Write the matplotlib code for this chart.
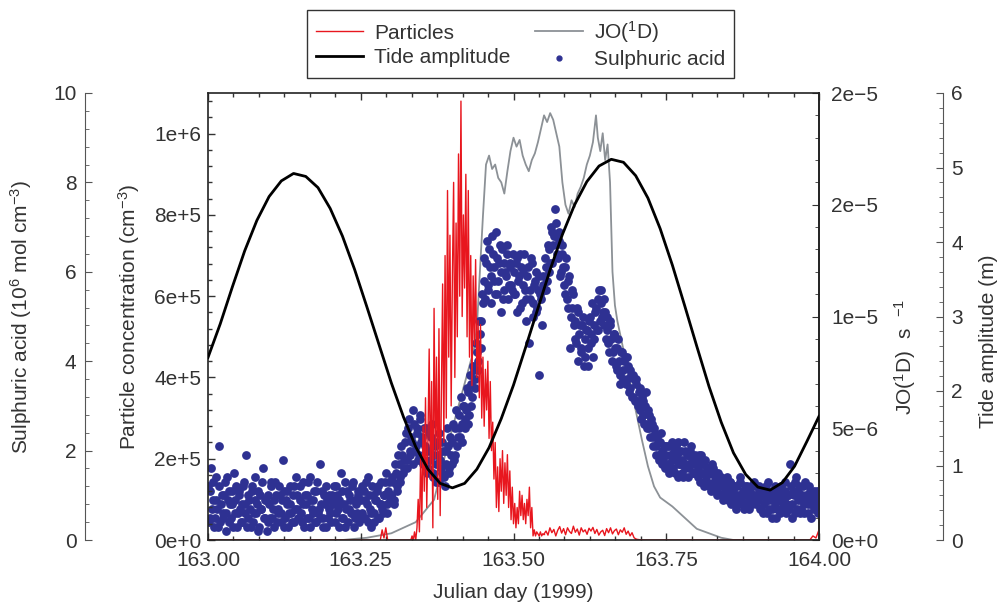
import numpy as np
import matplotlib
matplotlib.use('Agg')
import matplotlib.pyplot as plt
from matplotlib.ticker import MultipleLocator, FixedLocator, FixedFormatter
from matplotlib.lines import Line2D

plt.rcParams['font.family'] = ['Liberation Sans', 'DejaVu Sans']
plt.rcParams['font.size'] = 15
plt.rcParams['mathtext.fontset'] = 'custom'
plt.rcParams['mathtext.rm'] = 'Liberation Sans'
plt.rcParams['mathtext.it'] = 'Liberation Sans'

# ---------------- data ----------------
# Sulphuric acid (10^6 mol cm^-3): two interleaved sample sets, every 0.0025 day
sulphuric_a = [
    1.2, 0.5, 1.6, 0.9, 0.3, 1.4, 0.7, 2.1, 0.4, 1.0, 0.6, 1.3, 0.2, 0.9, 1.1, 0.5, 0.8, 1.5, 0.6, 0.3,
    1.0, 0.7, 0.4, 1.2, 0.8, 1.9, 0.5, 0.9, 0.3, 1.1, 0.6, 1.4, 0.8, 0.2, 1.0, 0.7, 1.6, 0.5, 0.9, 0.4,
    0.8, 1.2, 0.5, 0.9, 1.3, 0.4, 0.7, 1.0, 0.6, 1.8, 0.3, 0.9, 1.1, 0.6, 0.8, 0.4, 1.2, 0.7, 1.0, 0.5,
    0.9, 0.6, 1.3, 0.3, 0.8, 1.0, 0.5, 1.4, 0.7, 0.9, 0.4, 1.1, 0.6, 1.7, 0.8, 0.5, 1.0, 0.3, 0.9, 0.7,
    0.6, 1.0, 0.8, 0.4, 1.2, 0.7, 0.9, 1.5, 0.5, 0.8, 0.3, 1.1, 0.7, 0.9, 0.6, 1.3, 0.5, 0.8, 1.0, 0.4,
    0.9, 0.6, 1.1, 0.5, 0.8, 1.4, 0.7, 0.3, 1.0, 0.6, 0.9, 1.2, 0.5, 0.8, 0.7, 1.0, 1.3, 0.6, 1.1, 0.9,
    1.0, 1.3, 0.8, 1.5, 1.2, 1.7, 1.4, 1.9, 1.6, 2.2, 1.8, 2.5, 2.0, 2.3, 1.7, 2.6, 2.1, 2.4, 1.9, 2.8,
    2.3, 1.8, 2.1, 2.5, 1.6, 2.0, 2.3, 1.4, 1.9, 1.7, 2.2, 1.3, 1.8, 1.5, 2.0, 1.2, 1.7, 2.1, 1.6, 1.9,
    2.2, 1.8, 2.5, 2.1, 2.8, 2.3, 2.6, 3.0, 2.5, 2.9, 3.3, 2.8, 3.5, 3.2, 3.8, 3.6, 4.2, 4.0, 4.6, 4.9,
    5.3, 5.8, 6.2, 5.6, 6.5, 5.9, 6.8, 6.1, 5.5, 6.3, 5.8, 6.6, 6.0, 5.4, 6.2, 5.9, 6.4, 5.7, 6.1, 5.6,
    6.0, 5.5, 6.3, 5.8, 5.2, 6.1, 5.7, 6.4, 5.4, 5.9, 4.4, 5.6, 6.2, 5.3, 5.8, 5.1, 5.6, 3.7, 5.4, 5.9,
    5.6, 6.1, 5.8, 6.5, 6.2, 6.9, 6.6, 7.4, 6.8, 6.3, 6.7, 6.0, 6.4, 5.7, 6.1, 5.4, 5.8, 4.3, 5.2, 5.5,
    4.9, 4.4, 5.1, 4.6, 4.2, 4.8, 3.9, 4.5, 4.7, 4.3, 5.0, 4.6, 4.1, 4.8, 5.2, 4.7, 5.6, 5.3, 5.0, 5.4,
    5.1, 4.7, 4.4, 4.9, 4.5, 4.2, 4.6, 3.9, 4.3, 4.0, 3.5, 4.2, 3.8, 4.1, 3.6, 3.9, 3.4, 3.7, 3.2, 3.6,
    3.5, 3.1, 3.3, 2.9, 3.2, 2.8, 3.0, 2.6, 2.9, 2.5, 2.7, 2.3, 2.5, 2.1, 2.3, 1.9, 2.2, 2.0, 1.8, 2.1,
    1.9, 1.7, 2.1, 1.6, 1.8, 2.0, 1.5, 1.9, 2.2, 1.7, 1.8, 1.4, 2.0, 1.7, 1.9, 1.6, 2.1, 1.8, 1.5, 1.7,
    1.8, 1.6, 1.3, 1.9, 1.5, 1.7, 1.4, 1.6, 1.2, 1.5, 1.7, 1.3, 1.4, 1.1, 1.5, 1.2, 1.4, 0.9, 1.3, 1.1,
    1.2, 1.0, 1.3, 0.9, 1.1, 1.2, 0.8, 1.0, 1.3, 0.9, 1.1, 0.7, 1.0, 1.2, 0.9, 1.1, 0.8, 1.0, 0.9, 1.2,
    0.9, 1.1, 0.7, 1.0, 0.8, 1.2, 0.6, 0.9, 1.0, 0.7, 1.1, 0.8, 0.5, 1.0, 0.9, 1.2, 0.7, 0.9, 1.1, 0.8,
    1.0, 1.7, 0.8, 1.1, 0.6, 1.4, 0.9, 1.2, 0.7, 1.0, 0.8, 1.3, 0.9, 0.6, 1.1, 0.8, 1.0, 0.7, 0.9, 1.1,
    0.8,
]
sulphuric_b = [
    0.4, 1.1, 0.7, 1.3, 0.5, 0.9, 0.3, 1.2, 0.8, 0.5, 1.0, 0.6, 1.4, 0.4, 0.8, 1.1, 0.3, 0.9, 1.2, 0.6,
    1.1, 0.4, 0.8, 1.3, 0.6, 0.3, 1.0, 0.7, 1.2, 0.4, 0.9, 0.6, 1.1, 0.3, 0.7, 1.3, 0.5, 0.9, 0.2, 1.0,
    0.5, 1.3, 0.7, 0.3, 1.0, 0.6, 1.2, 0.4, 0.9, 1.1, 0.5, 0.8, 0.3, 1.2, 0.6, 1.0, 0.4, 1.4, 0.7, 0.5,
    1.2, 0.4, 0.8, 1.0, 0.5, 1.3, 0.3, 0.9, 0.6, 1.1, 0.4, 1.3, 0.7, 0.5, 1.1, 0.3, 0.8, 1.2, 0.5, 1.0,
    0.4, 0.9, 1.2, 0.6, 1.0, 0.3, 0.8, 1.1, 0.5, 1.3, 0.7, 0.4, 1.0, 0.6, 1.2, 0.3, 0.9, 0.6, 1.1, 0.5,
    1.2, 0.5, 0.9, 1.3, 0.4, 1.0, 0.6, 1.2, 0.4, 0.9, 1.1, 0.5, 0.8, 1.3, 0.6, 1.0, 1.5, 0.8, 1.3, 1.0,
    1.4, 0.9, 1.7, 1.1, 1.9, 1.3, 2.1, 1.5, 1.8, 2.4, 1.6, 2.7, 1.9, 2.2, 2.9, 2.0, 2.5, 1.8, 2.7, 2.2,
    1.7, 2.5, 2.0, 1.5, 2.4, 1.8, 2.6, 1.5, 2.1, 1.3, 1.9, 2.4, 1.6, 2.2, 1.4, 2.0, 2.5, 1.5, 2.3, 1.7,
    2.6, 1.9, 2.9, 2.3, 2.5, 3.2, 2.2, 3.0, 2.7, 3.4, 2.6, 3.7, 3.0, 3.9, 3.4, 4.4, 3.8, 4.9, 4.3, 5.5,
    6.3, 5.4, 6.7, 5.7, 6.1, 5.3, 6.4, 5.8, 6.9, 5.5, 6.2, 5.1, 6.5, 5.6, 6.0, 6.6, 5.4, 6.2, 5.7, 6.4,
    5.5, 6.2, 5.1, 5.9, 6.4, 5.3, 6.0, 5.6, 4.9, 6.1, 5.4, 6.3, 5.0, 5.7, 6.0, 5.2, 5.9, 5.5, 4.8, 5.7,
    6.3, 5.6, 6.6, 6.0, 7.0, 6.2, 6.8, 7.1, 6.4, 6.9, 5.9, 6.6, 6.1, 5.5, 6.3, 5.2, 5.9, 5.0, 5.6, 4.8,
    4.5, 5.2, 4.0, 4.8, 4.3, 5.0, 4.1, 4.7, 3.9, 4.9, 4.4, 5.3, 4.5, 5.1, 4.7, 5.4, 4.9, 5.6, 5.1, 4.8,
    4.5, 5.0, 4.2, 4.8, 4.0, 4.6, 4.3, 3.8, 4.5, 3.7, 4.2, 3.6, 4.0, 3.5, 4.1, 3.3, 3.8, 3.2, 3.7, 3.1,
    3.6, 3.0, 3.4, 2.7, 3.1, 2.6, 3.3, 2.5, 2.8, 2.3, 2.6, 2.1, 2.4, 1.9, 2.2, 1.8, 2.4, 1.7, 2.1, 1.6,
    2.1, 1.5, 1.9, 2.2, 1.6, 1.8, 2.1, 1.4, 1.7, 2.0, 1.5, 2.2, 1.6, 1.9, 1.4, 2.0, 1.7, 1.5, 1.9, 1.8,
    1.4, 1.9, 1.5, 1.7, 1.2, 1.8, 1.3, 1.6, 1.5, 1.1, 1.6, 1.2, 1.5, 1.0, 1.4, 1.3, 1.0, 1.3, 1.1, 1.4,
    0.9, 1.3, 0.8, 1.2, 1.0, 0.7, 1.2, 0.9, 1.4, 0.8, 1.0, 1.2, 0.8, 1.1, 0.7, 1.2, 0.9, 1.3, 0.8, 1.0,
    1.2, 0.7, 1.0, 0.6, 1.1, 0.9, 1.3, 0.7, 1.0, 0.5, 0.9, 1.2, 0.7, 1.1, 0.6, 1.0, 0.8, 1.3, 0.6, 1.0,
    0.7, 1.2, 0.5, 1.0, 1.3, 0.7, 1.1, 0.6, 0.9, 1.2, 0.6, 1.0, 0.8, 1.2, 0.5, 0.9, 1.1, 0.7, 1.0, 0.6,
]
sulphuric_a_t = 163.0 + 0.0025 * np.arange(len(sulphuric_a))
sulphuric_b_t = 163.00125 + 0.0025 * np.arange(len(sulphuric_b))

# Particles (1e5 cm^-3)
part_pre_t = [163.0, 163.282, 163.285, 163.288, 163.291, 163.294, 163.33]
part_pre = [0, 0, 0.25, 0.05, 0.3, 0, 0]
part_burst = [
    0, 0.1, 0, 0.2, 0, 0.3, 1.0, 0.2, 2.0, 0.5, 2.8, 1.2, 3.5, 0.8, 2.5, 4.7, 1.5, 3.9, 0.3, 5.7,
    2.0, 4.5, 1.0, 5.2, 0.6, 3.6, 6.3, 2.4, 7.0, 3.0, 8.6, 4.5, 7.5, 3.3, 6.5, 8.8, 4.0, 7.8, 5.0, 9.5,
    6.0, 10.8, 5.5, 8.0, 6.2, 9.0, 5.0, 8.6, 4.5, 7.0, 3.8, 6.5, 4.8, 6.9, 4.0, 5.4, 3.5, 5.3, 3.0, 4.5,
    2.8, 4.2, 3.2, 4.4, 2.5, 3.9, 2.2, 2.9, 1.5, 2.4, 0.8, 1.8, 0.7, 2.0, 1.2, 2.2, 0.9, 1.9, 1.1, 2.1,
    0.8, 1.7, 0.5, 1.3, 0.4, 0.9, 0.3, 0.8, 0.4, 1.2, 0.6, 1.1, 0.5, 0.9, 0.4, 1.0, 0.6, 1.3, 0.3, 0.8,
    0.1, 0.25, 0.1, 0.2, 0.15, 0.1, 0.2, 0.1, 0.15,
]
part_burst_t = 163.332 + 0.002 * np.arange(len(part_burst))
part_tail = [0.15, 0.22, 0.12, 0.3, 0.18, 0.26, 0.1, 0.24, 0.33, 0.17, 0.28, 0.13, 0.3, 0.21, 0.16,
             0.34, 0.19, 0.27, 0.12, 0.3, 0.2, 0.25, 0.14, 0.29, 0.22, 0.31, 0.16, 0.26, 0.12, 0.2,
             0.24, 0.11, 0.28, 0.18, 0.3, 0.15, 0.23, 0.27, 0.13, 0.25, 0.19, 0.3, 0.14, 0.22, 0.1,
             0.18, 0.06, 0.02]
part_tail_t = 163.55 + 0.0032 * np.arange(len(part_tail))
part_end_t = [163.71, 163.985, 163.99, 163.995, 164.0]
part_end = [0, 0, 0.1, 0.05, 0.25]

# JO(1D) (1e-5 s^-1)
jo_t = [163.00, 163.22, 163.26, 163.30, 163.34, 163.37, 163.39, 163.405, 163.42, 163.435,
        163.44, 163.445, 163.45, 163.455, 163.46, 163.465, 163.47, 163.475, 163.48, 163.485, 163.49,
        163.495, 163.50, 163.505, 163.51, 163.515, 163.52, 163.525, 163.53, 163.535, 163.54, 163.545,
        163.55, 163.555, 163.56, 163.565, 163.57, 163.575, 163.58, 163.585, 163.59, 163.595, 163.60,
        163.605, 163.61, 163.615, 163.62, 163.625, 163.63, 163.635, 163.638, 163.642, 163.646, 163.65,
        163.654, 163.658, 163.662, 163.666, 163.67, 163.68, 163.69, 163.70, 163.71, 163.72, 163.73,
        163.74, 163.76, 163.78, 163.80, 163.82, 163.84, 163.86, 164.00]
jo = [0, 0, 0.01, 0.03, 0.08, 0.18, 0.4, 0.55, 0.7, 0.85,
      0.95, 1.2, 1.45, 1.68, 1.72, 1.66, 1.68, 1.62, 1.6, 1.55, 1.65,
      1.74, 1.8, 1.76, 1.79, 1.72, 1.68, 1.65, 1.7, 1.73, 1.78, 1.84,
      1.9, 1.87, 1.91, 1.88, 1.82, 1.76, 1.6, 1.5, 1.46, 1.52, 1.49,
      1.55, 1.58, 1.62, 1.68, 1.72, 1.78, 1.9, 1.8, 1.74, 1.82, 1.7,
      1.77, 1.6, 1.2, 1.05, 0.98, 0.85, 0.72, 0.58, 0.45, 0.33, 0.24,
      0.19, 0.15, 0.1, 0.05, 0.03, 0.01, 0.0, 0.0]

# Tide amplitude (m), every 0.02 day
tide = [2.45, 2.90, 3.40, 3.88, 4.29, 4.61, 4.82, 4.92, 4.88, 4.73, 4.45, 4.08, 3.63, 3.13, 2.62,
        2.11, 1.65, 1.25, 0.95, 0.76, 0.70, 0.76, 0.95, 1.24, 1.63, 2.08, 2.59, 3.11, 3.63, 4.10,
        4.50, 4.81, 5.02, 5.11, 5.07, 4.89, 4.59, 4.18, 3.69, 3.15, 2.60, 2.06, 1.58, 1.17, 0.88,
        0.71, 0.67, 0.77, 0.99, 1.32, 1.66]
tide_t = 163.0 + 0.02 * np.arange(len(tide))

x_ticks = [163.0, 163.25, 163.5, 163.75, 164.0]
x_labels = ['163.00', '163.25', '163.50', '163.75', '164.00']
part_ticks = [0, 2e5, 4e5, 6e5, 8e5, 1e6]
part_labels = ['0e+0', '2e+5', '4e+5', '6e+5', '8e+5', '1e+6']
jo_ticks = [0, 5e-6, 1e-5, 1.5e-5, 2e-5]
jo_labels = ['0e+0', '5e\u22126', '1e\u22125', '2e\u22125', '2e\u22125']

# ---------------- figure ----------------
W, H = 998, 605
fig = plt.figure(figsize=(W / 100, H / 100), dpi=100)
ax = fig.add_axes([208 / W, 65 / H, 611 / W, 447 / H])
ax_jo = ax.twinx()
ax_s = ax.twinx()
ax_t = ax.twinx()

ax_jo.set_zorder(1)
ax_s.set_zorder(2)
ax.set_zorder(3)
ax_t.set_zorder(4)
for a in (ax, ax_jo, ax_s, ax_t):
    a.patch.set_visible(False)

RED = '#e8161e'
GREY = '#8c9196'
BLUE = '#2e3192'
AXC = '#333333'

# JO(1D)
ax_jo.plot(jo_t, np.array(jo) * 1e-5, color=GREY, lw=1.3)
ax_jo.set_ylim(0, 2e-5)
# Sulphuric acid
ax_s.scatter(sulphuric_a_t, sulphuric_a, s=40, color=BLUE, linewidths=0)
ax_s.scatter(sulphuric_b_t, sulphuric_b, s=40, color=BLUE, linewidths=0)
ax_s.set_ylim(0, 10)
# Particles
for tt, vv in ((part_pre_t, part_pre), (part_burst_t, part_burst),
               (part_tail_t, part_tail), (part_end_t, part_end)):
    ax.plot(tt, np.array(vv) * 1e5, color=RED, lw=1.0)
ax.plot([part_pre_t[-1], part_burst_t[0]], [0, 0], color=RED, lw=1.0)
ax.plot([part_burst_t[-1], part_tail_t[0]], [part_burst[-1] * 1e5, part_tail[0] * 1e5], color=RED, lw=1.0)
ax.plot([part_tail_t[-1], part_end_t[0]], [part_tail[-1] * 1e5, 0], color=RED, lw=1.0)
ax.set_ylim(0, 1.1e6)
# Tide
ax_t.plot(tide_t, tide, color='black', lw=2.0)
ax_t.set_ylim(0, 6)

ax.set_xlim(163.0, 164.0)

# ---- main axes (particles + x) ----
ax.xaxis.set_major_locator(FixedLocator(x_ticks))
ax.xaxis.set_major_formatter(FixedFormatter(x_labels))
ax.xaxis.set_minor_locator(MultipleLocator(1 / 24))
ax.yaxis.set_major_locator(FixedLocator(part_ticks))
ax.yaxis.set_major_formatter(FixedFormatter(part_labels))
ax.yaxis.set_minor_locator(MultipleLocator(4e4))
ax.tick_params(axis='x', which='both', direction='in', top=True, bottom=True, pad=8)
ax.tick_params(axis='y', which='both', direction='in', left=True, right=False, pad=5)
ax.tick_params(which='major', length=5, width=1, color=AXC, labelcolor=AXC)
ax.tick_params(which='minor', length=3, width=1, color=AXC)
ax.set_xlabel('Julian day (1999)', labelpad=9, color=AXC)
ax.set_ylabel('Particle concentration (cm$^{-3}$)', color=AXC)
ax.yaxis.set_label_coords(-0.108, 0.5)
for sp in ax.spines.values():
    sp.set_linewidth(1.2)
    sp.set_color('#222222')

# ---- JO axis (right) ----
ax_jo.yaxis.set_major_locator(FixedLocator(jo_ticks))
ax_jo.yaxis.set_major_formatter(FixedFormatter(jo_labels))
ax_jo.yaxis.set_minor_locator(MultipleLocator(1e-6))
ax_jo.tick_params(axis='y', which='both', direction='in', right=True, left=False, pad=9,
                  color=AXC, labelcolor=AXC)
ax_jo.tick_params(which='major', length=5)
ax_jo.tick_params(which='minor', length=3)
ax_jo.set_ylabel('JO($^1$D)  s  $^{-1}$', color=AXC)
ax_jo.yaxis.set_label_coords(1.12, 0.41)
for k in ('left', 'top', 'bottom'):
    ax_jo.spines[k].set_visible(False)
ax_jo.spines['right'].set_linewidth(1.2)
ax_jo.spines['right'].set_color('#222222')

# ---- sulphuric axis (outer left) ----
ax_s.spines['left'].set_position(('axes', -0.2016))
ax_s.spines['left'].set_visible(True)
for k in ('right', 'top', 'bottom'):
    ax_s.spines[k].set_visible(False)
ax_s.yaxis.set_ticks_position('left')
ax_s.yaxis.set_label_position('left')
ax_s.yaxis.set_major_locator(MultipleLocator(2))
ax_s.yaxis.set_minor_locator(MultipleLocator(0.4))
ax_s.tick_params(axis='y', which='both', direction='in', pad=6, color='#555555', labelcolor=AXC)
ax_s.tick_params(which='major', length=5)
ax_s.tick_params(which='minor', length=3)
ax_s.set_ylabel('Sulphuric acid (10$^{6}$ mol cm$^{-3}$)', color=AXC)
ax_s.yaxis.set_label_coords(-0.284, 0.5)
ax_s.spines['left'].set_color('#555555')

# ---- tide axis (outer right) ----
ax_t.spines['right'].set_position(('axes', 1.2029))
for k in ('left', 'top', 'bottom'):
    ax_t.spines[k].set_visible(False)
ax_t.yaxis.set_major_locator(MultipleLocator(1))
ax_t.yaxis.set_minor_locator(MultipleLocator(0.2))
ax_t.tick_params(axis='y', which='both', direction='in', pad=6, color='#555555', labelcolor=AXC)
ax_t.tick_params(which='major', length=5)
ax_t.tick_params(which='minor', length=3)
ax_t.set_ylabel('Tide amplitude (m)', color=AXC)
ax_t.yaxis.set_label_coords(1.262, 0.445)
ax_t.spines['right'].set_color('#555555')

# ---- legend ----
handles = [Line2D([], [], color=RED, lw=1.0),
           Line2D([], [], color='black', lw=2.0),
           Line2D([], [], color=GREY, lw=1.3),
           Line2D([], [], color=BLUE, lw=0, marker='o', markersize=3.5)]
labels = ['Particles', 'Tide amplitude', 'JO($^1$D)', 'Sulphuric acid']
leg = ax_t.legend(handles, labels, ncol=2, loc='lower center', bbox_to_anchor=(0.511, 1.034),
                  frameon=True, fancybox=False, edgecolor='#333333', framealpha=1,
                  borderaxespad=0, handlelength=2.3, columnspacing=1.2, handletextpad=0.5,
                  labelspacing=0.25, borderpad=0.42, fontsize=15)
leg.get_frame().set_linewidth(1.0)
for txt in leg.get_texts():
    txt.set_color(AXC)

fig.savefig('out.png', dpi=100)
